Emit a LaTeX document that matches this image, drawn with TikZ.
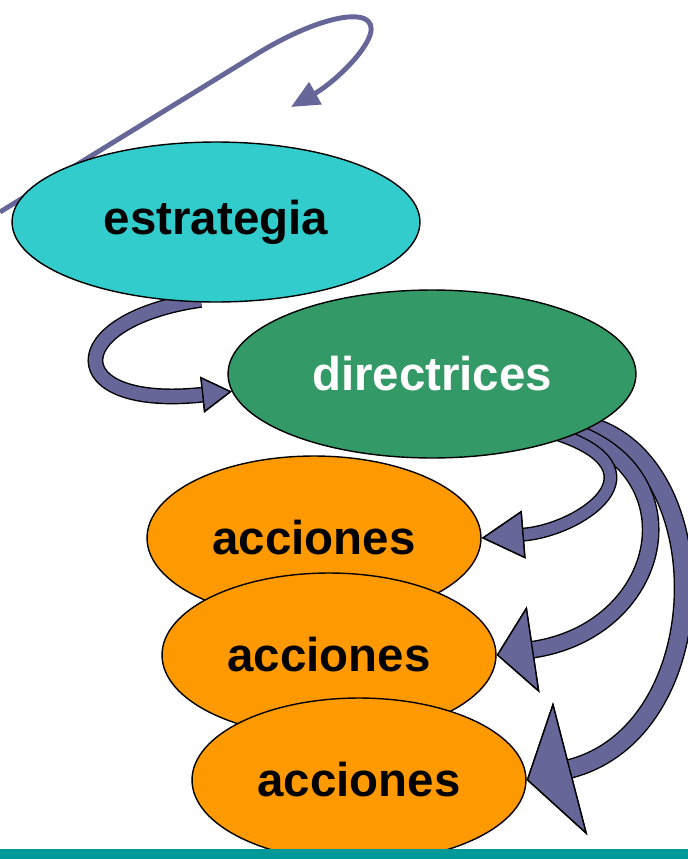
\documentclass[tikz,border=0pt]{standalone}
\usepackage{fontspec}
\setmainfont{Liberation Sans}
\usetikzlibrary{shapes.geometric,arrows.meta,backgrounds}
\definecolor{cyanfill}{HTML}{33CCCC}
\definecolor{greenfill}{HTML}{339966}
\definecolor{orangefill}{HTML}{FF9900}
\definecolor{arrowcol}{HTML}{666699}
\definecolor{barcol}{HTML}{009999}
\tikzset{rib/.style={line width=#1,draw=arrowcol,shorten <=-8pt,preaction={draw=black,line width=#1+1.6pt}}}

\begin{document}
\begin{tikzpicture}[x=0.02cm,y=-0.02cm]
%\draw[help lines,step=50] (0,0) grid (688,859);
\tikzstyle{e}=[ellipse,draw,line width=0.8pt,inner sep=0pt,font=\fontsize{27}{32}\selectfont\bfseries]
\tikzstyle{a}=[e,fill=orangefill,minimum width=6.68cm,minimum height=3.28cm]
\useasboundingbox (0,0) rectangle (688,859);

\node[e,fill=cyanfill,minimum width=8.16cm,minimum height=3.2cm] (estrategia) at (216,222) {estrategia};
\node[e,fill=greenfill,text=white,minimum width=8.16cm,minimum height=3.36cm] (directrices) at (432,374) {directrices};
\node[a] (acciones1) at (314,538) {acciones};
\node[a] (acciones2) at (329,655) {acciones};
\node[a] (acciones3) at (359,780) {acciones};

\begin{scope}[on background layer]
\coordinate (in) at (0,212);
\coordinate (top) at (260,52);
\coordinate (loop) at (291,107);
\draw[arrowcol,line width=2.8pt,-{Triangle[length=16pt,width=14pt]}] (in) -- (top)
  .. controls (330,10) and (385,5) .. (368,40) .. controls (358,60) and (330,85) .. (loop);

\draw[rib=7.4pt,-{Triangle[length=17pt,width=20.5pt,line width=0.8pt,fill=arrowcol,color=black]}]
  (estrategia.250) .. controls (60,320) and (60,410) .. (directrices.185);

\draw[rib=9.7pt,-{Triangle[length=25.6pt,width=78pt,line width=0.8pt,fill=arrowcol,color=black]}]
  (directrices.-18) .. controls (720,450) and (720,730) .. (acciones3.east);
\draw[rib=8.5pt,-{Triangle[length=21pt,width=49.5pt,line width=0.8pt,fill=arrowcol,color=black]}]
  (directrices.-22) .. controls (700,470) and (665,630) .. (acciones2.east);
\draw[rib=6.3pt,-{Triangle[length=24pt,width=27.3pt,line width=0.8pt,fill=arrowcol,color=black]}]
  (directrices.-25) .. controls (670,470) and (580,530) .. (acciones1.east);
\end{scope}

\fill[barcol] (0,849) rectangle (688,859);
\end{tikzpicture}
\end{document}
